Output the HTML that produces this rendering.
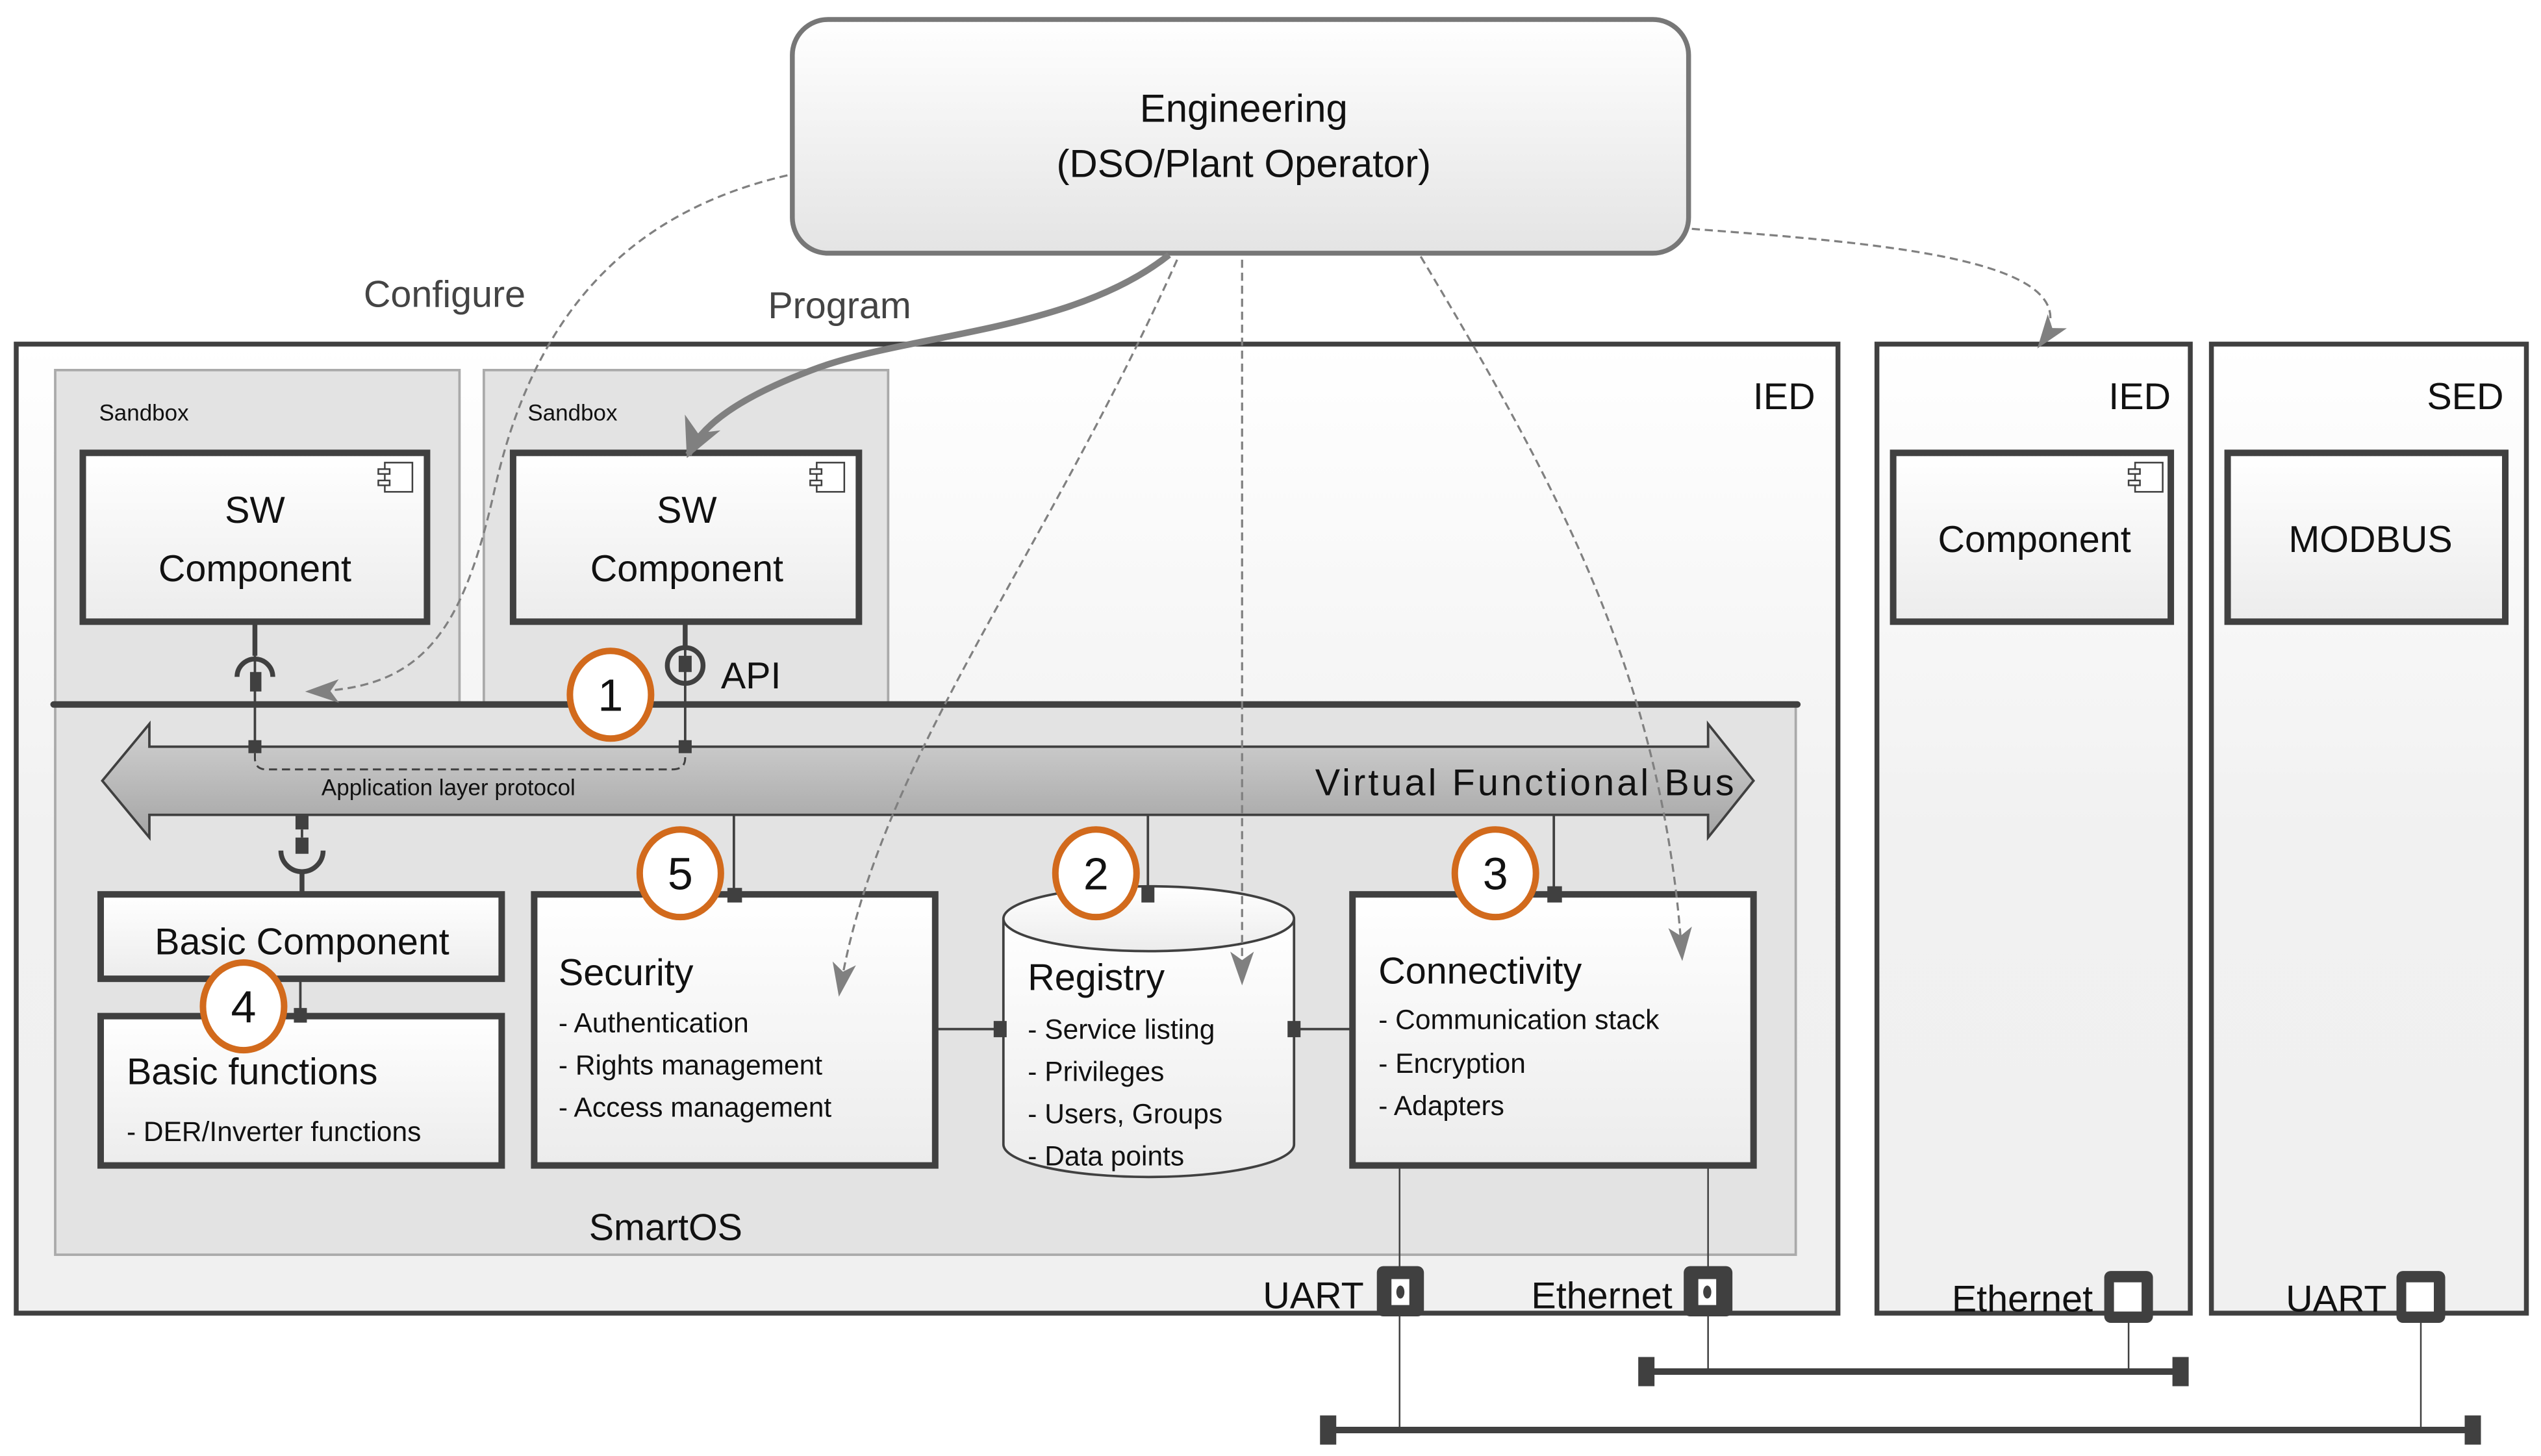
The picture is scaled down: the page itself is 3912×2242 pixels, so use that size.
<!DOCTYPE html>
<html><head><meta charset="utf-8"><style>
html,body{margin:0;padding:0;background:#fff;}
svg{display:block;}
text{font-family:"Liberation Sans",sans-serif;fill:#111;}
</style></head><body>
<svg width="3912" height="2242" viewBox="0 0 1565 897" preserveAspectRatio="none" xmlns="http://www.w3.org/2000/svg">
<defs>
<linearGradient id="gEng" x1="0" y1="0" x2="0" y2="1"><stop offset="0" stop-color="#ffffff"/><stop offset="1" stop-color="#e4e4e4"/></linearGradient>
<linearGradient id="gBox" x1="0" y1="0" x2="0" y2="1"><stop offset="0" stop-color="#ffffff"/><stop offset="1" stop-color="#ececec"/></linearGradient>
<linearGradient id="gIed" x1="0" y1="0" x2="0" y2="1"><stop offset="0" stop-color="#ffffff"/><stop offset="0.5" stop-color="#f1f1f1"/><stop offset="1" stop-color="#f0f0f0"/></linearGradient>
<linearGradient id="gBus" x1="0" y1="0" x2="0" y2="1"><stop offset="0" stop-color="#d2d2d2"/><stop offset="1" stop-color="#a4a4a4"/></linearGradient>
<marker id="ah" viewBox="0 0 10 10" refX="9" refY="5" markerWidth="6" markerHeight="6" orient="auto"><path d="M0,0 L10,5 L0,10 L3,5 z" fill="#808080"/></marker>
<marker id="ah2" viewBox="0 0 10 10" refX="9" refY="5" markerWidth="16" markerHeight="16" orient="auto"><path d="M0,1.5 L10,5 L0,8.5 L2.5,5 z" fill="#808080"/></marker>
</defs>

<rect x="10" y="212" width="1122" height="597" fill="url(#gIed)" stroke="#404040" stroke-width="3"/>
<rect x="1156" y="212" width="193" height="597" fill="url(#gIed)" stroke="#404040" stroke-width="3"/>
<rect x="1362" y="212" width="194" height="597" fill="url(#gIed)" stroke="#404040" stroke-width="3"/>
<text x="1118" y="252" font-size="23" text-anchor="end">IED</text>
<text x="1337" y="252" font-size="23" text-anchor="end">IED</text>
<text x="1542" y="252" font-size="23" text-anchor="end">SED</text>

<rect x="34" y="228" width="249" height="206" fill="#e3e3e3" stroke="#aaa" stroke-width="1.5"/>
<rect x="298" y="228" width="249" height="206" fill="#e3e3e3" stroke="#aaa" stroke-width="1.5"/>
<text x="61" y="259" font-size="14">Sandbox</text>
<text x="325" y="259" font-size="14">Sandbox</text>
<rect x="34" y="434" width="1072" height="339" fill="#e3e3e3" stroke="#aaa" stroke-width="1.5"/>
<line x1="33" y1="434" x2="1107" y2="434" stroke="#404040" stroke-width="4" stroke-linecap="round"/>
<text x="410" y="764" font-size="23" text-anchor="middle">SmartOS</text>

<rect x="51" y="279" width="212" height="104" fill="url(#gBox)" stroke="#404040" stroke-width="4"/>
<rect x="316" y="279" width="213" height="104" fill="url(#gBox)" stroke="#404040" stroke-width="4"/>
<text x="157" y="322" font-size="23" text-anchor="middle">SW</text>
<text x="157" y="358" font-size="23" text-anchor="middle">Component</text>
<text x="423" y="322" font-size="23" text-anchor="middle">SW</text>
<text x="423" y="358" font-size="23" text-anchor="middle">Component</text>

<rect x="1166" y="279" width="171" height="104" fill="url(#gBox)" stroke="#404040" stroke-width="4"/>
<text x="1253" y="340" font-size="23" text-anchor="middle">Component</text>
<rect x="1372" y="279" width="171" height="104" fill="url(#gBox)" stroke="#404040" stroke-width="4"/>
<text x="1460" y="340" font-size="23" text-anchor="middle">MODBUS</text>

<g fill="#fff" stroke="#404040" stroke-width="1">
<rect x="237" y="285" width="17" height="18"/><rect x="233" y="289" width="7" height="3"/><rect x="233" y="296" width="7" height="3"/>
<rect x="503" y="285" width="17" height="18"/><rect x="499" y="289" width="7" height="3"/><rect x="499" y="296" width="7" height="3"/>
<rect x="1315" y="285" width="17" height="18"/><rect x="1311" y="289" width="7" height="3"/><rect x="1311" y="296" width="7" height="3"/>
</g>

<path d="M63,481 L92,446 L92,460 L1052,460 L1052,446 L1080,481 L1052,516 L1052,502 L92,502 L92,516 Z" fill="url(#gBus)" stroke="#404040" stroke-width="1.5"/>
<text x="198" y="490" font-size="14">Application layer protocol</text>
<text x="1068" y="490" font-size="23" text-anchor="end" textLength="258">Virtual Functional Bus</text>

<line x1="157" y1="383" x2="157" y2="460" stroke="#404040" stroke-width="1.5"/>
<line x1="157" y1="383" x2="157" y2="404" stroke="#404040" stroke-width="3"/>
<path d="M146,417 A11,11 0 0 1 168,417" fill="none" stroke="#404040" stroke-width="3"/>
<rect x="154" y="414" width="7" height="12" fill="#404040"/>
<rect x="153" y="456" width="8" height="8" fill="#404040"/>
<line x1="422" y1="383" x2="422" y2="460" stroke="#404040" stroke-width="1.5"/>
<line x1="422" y1="383" x2="422" y2="398" stroke="#404040" stroke-width="3"/>
<circle cx="422" cy="410" r="11" fill="none" stroke="#404040" stroke-width="3"/>
<rect x="418" y="404" width="8" height="10" fill="#404040"/>
<rect x="418" y="456" width="8" height="8" fill="#404040"/>
<text x="444" y="424" font-size="23">API</text>
<path d="M157,464 L157,467 Q157,474 164,474 L414,474 Q422,474 422,467 L422,464" fill="none" stroke="#404040" stroke-width="1.2" stroke-dasharray="5,3"/>

<rect x="182" y="502" width="8" height="9" fill="#404040"/>
<line x1="186" y1="511" x2="186" y2="516" stroke="#404040" stroke-width="1.5"/>
<rect x="182" y="516" width="8" height="10" fill="#404040"/>
<path d="M173,524 A13,13 0 0 0 199,524" fill="none" stroke="#404040" stroke-width="3"/>
<line x1="186" y1="537" x2="186" y2="551" stroke="#404040" stroke-width="3"/>

<rect x="62" y="551" width="247" height="52" fill="url(#gBox)" stroke="#404040" stroke-width="4"/>
<text x="186" y="588" font-size="23" text-anchor="middle">Basic Component</text>
<rect x="62" y="626" width="247" height="92" fill="url(#gBox)" stroke="#404040" stroke-width="4"/>
<text x="78" y="668" font-size="23">Basic functions</text>
<text x="78" y="703" font-size="17">- DER/Inverter functions</text>
<line x1="185" y1="603" x2="185" y2="626" stroke="#404040" stroke-width="1.5"/>
<rect x="181" y="621" width="8" height="9" fill="#404040"/>

<rect x="329" y="551" width="247" height="167" fill="url(#gBox)" stroke="#404040" stroke-width="4"/>
<text x="344" y="607" font-size="23">Security</text>
<text x="344" y="636" font-size="17">- Authentication</text>
<text x="344" y="662" font-size="17">- Rights management</text>
<text x="344" y="688" font-size="17">- Access management</text>
<line x1="452" y1="502" x2="452" y2="551" stroke="#404040" stroke-width="1.5"/>
<rect x="448" y="547" width="9" height="9" fill="#404040"/>

<path d="M618,566 L618,705 A89,20 0 0 0 797,705 L797,566" fill="url(#gBox)" stroke="#404040" stroke-width="1.5"/>
<ellipse cx="707.5" cy="566" rx="89.5" ry="20" fill="url(#gBox)" stroke="#404040" stroke-width="1.5"/>
<text x="633" y="610" font-size="23">Registry</text>
<text x="633" y="640" font-size="17">- Service listing</text>
<text x="633" y="666" font-size="17">- Privileges</text>
<text x="633" y="692" font-size="17">- Users, Groups</text>
<text x="633" y="718" font-size="17">- Data points</text>
<line x1="707" y1="502" x2="707" y2="551" stroke="#404040" stroke-width="1.5"/>
<rect x="703" y="546" width="8" height="10" fill="#404040"/>
<line x1="576" y1="634" x2="618" y2="634" stroke="#404040" stroke-width="1.5"/>
<rect x="612" y="629" width="8" height="10" fill="#404040"/>
<line x1="797" y1="634" x2="833" y2="634" stroke="#404040" stroke-width="1.5"/>
<rect x="793" y="629" width="8" height="10" fill="#404040"/>

<rect x="833" y="551" width="247" height="167" fill="url(#gBox)" stroke="#404040" stroke-width="4"/>
<text x="849" y="606" font-size="23">Connectivity</text>
<text x="849" y="634" font-size="17">- Communication stack</text>
<text x="849" y="661" font-size="17">- Encryption</text>
<text x="849" y="687" font-size="17">- Adapters</text>
<line x1="957" y1="502" x2="957" y2="551" stroke="#404040" stroke-width="1.5"/>
<rect x="953" y="546" width="9" height="10" fill="#404040"/>

<g fill="#fff" stroke="#D26A1C" stroke-width="4">
<ellipse cx="376" cy="428" rx="25" ry="27"/>
<ellipse cx="419" cy="538" rx="25" ry="27"/>
<ellipse cx="675" cy="538" rx="25" ry="27"/>
<ellipse cx="921" cy="538" rx="25" ry="27"/>
<ellipse cx="150" cy="620" rx="25" ry="27"/>
</g>
<g font-size="28" text-anchor="middle">
<text x="376" y="438">1</text><text x="419" y="548">5</text><text x="675" y="548">2</text><text x="921" y="548">3</text><text x="150" y="630">4</text>
</g>

<line x1="862" y1="718" x2="862" y2="881" stroke="#404040" stroke-width="1"/>
<line x1="1052" y1="718" x2="1052" y2="845" stroke="#404040" stroke-width="1"/>
<line x1="1311" y1="813" x2="1311" y2="845" stroke="#404040" stroke-width="1"/>
<line x1="1491" y1="813" x2="1491" y2="881" stroke="#404040" stroke-width="1"/>
<line x1="1014" y1="845" x2="1343" y2="845" stroke="#404040" stroke-width="4"/>
<rect x="1009" y="836" width="10" height="18" fill="#404040"/><rect x="1338" y="836" width="10" height="18" fill="#404040"/>
<line x1="818" y1="881" x2="1523" y2="881" stroke="#404040" stroke-width="4"/>
<rect x="813" y="872" width="10" height="18" fill="#404040"/><rect x="1518" y="872" width="10" height="18" fill="#404040"/>

<rect x="848" y="780" width="29" height="31" rx="4" fill="#404040"/><rect x="857" y="788" width="11" height="16" fill="#fff"/><ellipse cx="862.5" cy="796" rx="2.5" ry="4" fill="#404040"/>
<rect x="1037" y="780" width="30" height="31" rx="4" fill="#404040"/><rect x="1046" y="788" width="11" height="16" fill="#fff"/><ellipse cx="1051.5" cy="796" rx="2.5" ry="4" fill="#404040"/>
<rect x="1296" y="783" width="30" height="32" rx="4" fill="#404040"/><rect x="1302" y="790" width="17" height="18" fill="#fff"/>
<rect x="1476" y="783" width="30" height="32" rx="4" fill="#404040"/><rect x="1482" y="790" width="17" height="18" fill="#fff"/>
<text x="840" y="806" font-size="23" text-anchor="end">UART</text>
<text x="1030" y="806" font-size="23" text-anchor="end">Ethernet</text>
<text x="1289" y="808" font-size="23" text-anchor="end">Ethernet</text>
<text x="1470" y="808" font-size="23" text-anchor="end">UART</text>

<rect x="488" y="12" width="552" height="144" rx="22" fill="url(#gEng)" stroke="#777" stroke-width="3"/>
<text x="766" y="75" font-size="24" text-anchor="middle">Engineering</text>
<text x="766" y="109" font-size="24" text-anchor="middle">(DSO/Plant Operator)</text>
<text x="224" y="189" font-size="23" style="fill:#444">Configure</text>
<text x="473" y="196" font-size="23" style="fill:#444">Program</text>

<g fill="none" stroke="#808080" stroke-width="1.3" stroke-dasharray="5,3">
<path d="M485,108 C390,130 330,190 305,300 C285,390 260,425 190,426" marker-end="url(#ah2)"/>
<path d="M725,160 C640,350 540,470 517,612" marker-end="url(#ah2)"/>
<path d="M765,160 L765,605" marker-end="url(#ah2)"/>
<path d="M875,158 C960,300 1025,420 1036,590" marker-end="url(#ah2)"/>
<path d="M1042,141 C1160,150 1295,160 1256,213" marker-end="url(#ah2)"/>
</g>
<path d="M720,157 C660,205 560,205 500,228 C455,245 432,262 424,280" fill="none" stroke="#808080" stroke-width="4" marker-end="url(#ah)"/>
</svg>
</body></html>
